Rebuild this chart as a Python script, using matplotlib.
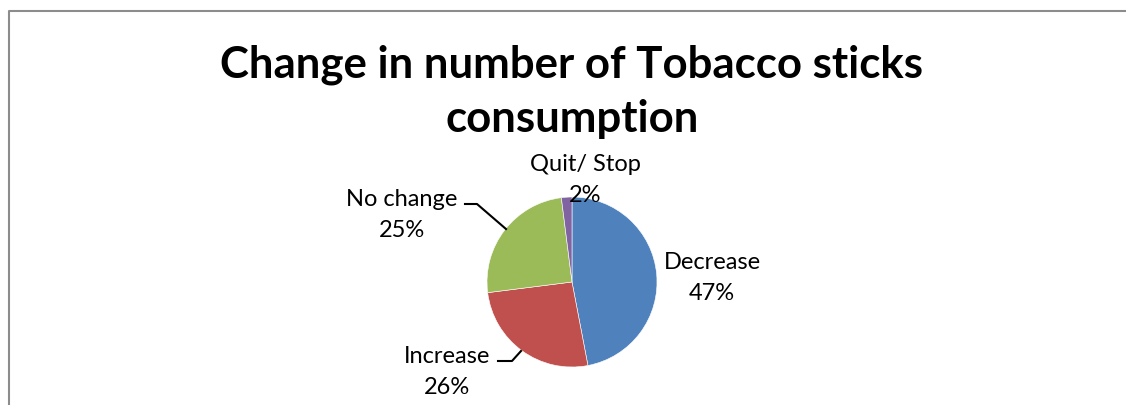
import matplotlib
matplotlib.use("Agg")
import matplotlib.pyplot as plt
import numpy as np

categories = ["Decrease", "Increase", "No change", "Quit/ Stop"]
values = [47, 26, 25, 2]
colors = ["#4F81BD", "#C0504D", "#9BBB59", "#8064A2"]
title = "Change in number of Tobacco sticks\nconsumption"

W, H = 1126, 405
fig = plt.figure(figsize=(W / 100, H / 100), dpi=100)
ax = fig.add_axes([0, 0, 1, 1])

cx, cy, r = 572, 282, 85
# y axis is flipped below, so start at -90 going counterclockwise in data
# space to appear clockwise from the top on screen
wedges, _ = ax.pie(values, colors=colors, startangle=-90, counterclock=True,
                   center=(cx, cy), radius=r, frame=True,
                   wedgeprops=dict(edgecolor="white", linewidth=0.4))
ax.set_xlim(0, W)
ax.set_ylim(H, 0)
ax.set_aspect("equal")
ax.axis("off")

# border (left and top only)
ax.plot([8.5, 8.5, W], [H, 10.5, 10.5], color="#8c8c8c", lw=1.5,
        solid_capstyle="butt")

font = "Lato"
ax.text(572, 92, title, ha="center", va="center", fontsize=31.5,
        fontweight="bold", family=font, linespacing=1.42)

lab_pos = {
    "Decrease": (712, 278),
    "Increase": (447, 372),
    "No change": (402, 215),
    "Quit/ Stop": (585, 180),
}
for cat, v in zip(categories, values):
    x, y = lab_pos[cat]
    ax.text(x, y, f"{cat}\n{v}%", ha="center", va="center", fontsize=17,
            family=font, linespacing=1.55, color="black")

# leader lines
ax.plot([465, 477, 506], [204, 204, 229], color="black", lw=1.5)
ax.plot([498, 512, 521], [361, 361, 351], color="black", lw=1.5)

fig.savefig("out.png", dpi=100)
